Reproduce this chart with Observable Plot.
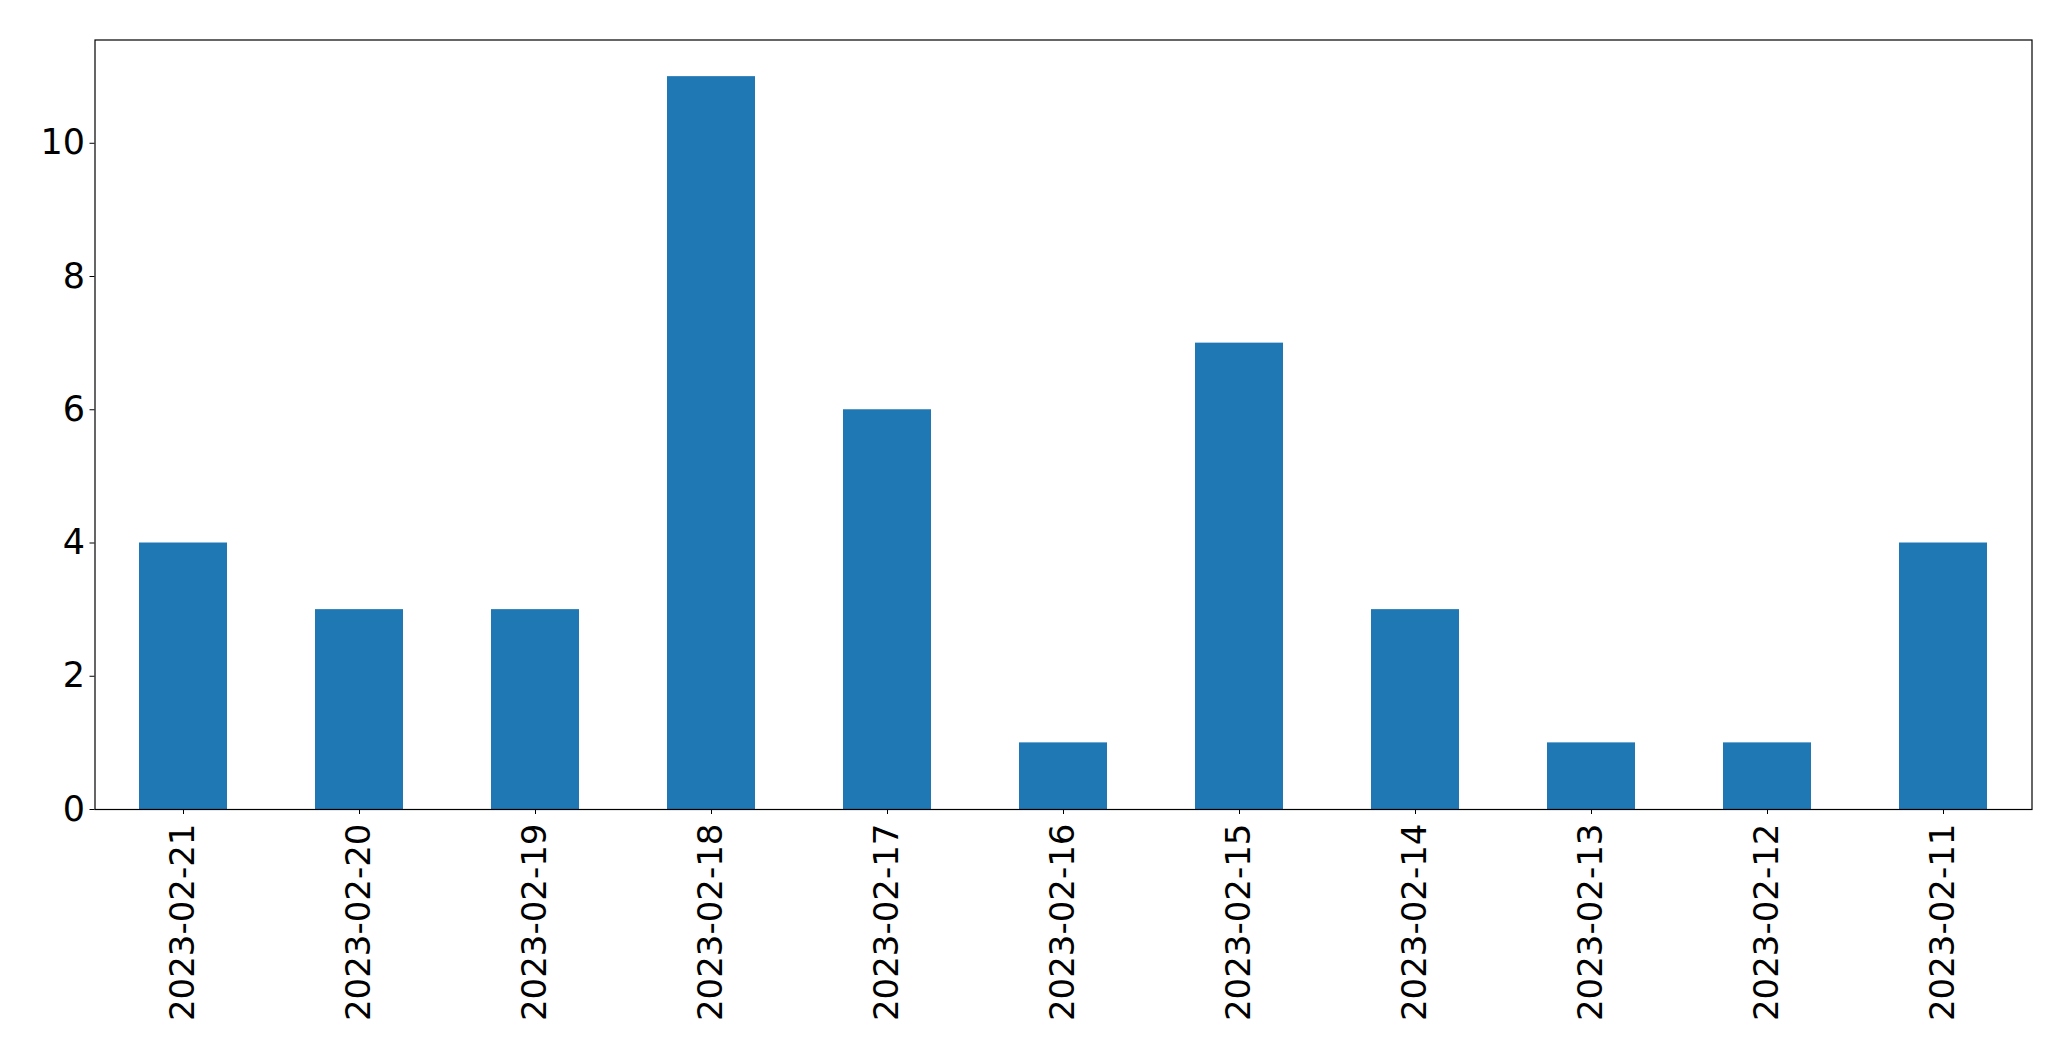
<!DOCTYPE html>
<html>
<head>
<meta charset="utf-8">
<script src="https://cdn.jsdelivr.net/npm/d3@7"></script>
<script src="https://cdn.jsdelivr.net/npm/@observablehq/plot@0.6"></script>
<style>
  html, body { margin: 0; padding: 0; background: #fff; }
  #chart svg { display: block; }
</style>
</head>
<body>
<div id="chart"></div>
<script>
const dates = ["2023-02-21","2023-02-20","2023-02-19","2023-02-18","2023-02-17","2023-02-16","2023-02-15","2023-02-14","2023-02-13","2023-02-12","2023-02-11"];
const counts = [4, 3, 3, 11, 6, 1, 7, 3, 1, 1, 4];
const yTicks = [0, 2, 4, 6, 8, 10];

const data = dates.map((d, i) => ({date: d, count: counts[i]}));

const chart = Plot.plot({
  width: 2071,
  height: 1061,
  marginLeft: 94.5,
  marginRight: 39.5,
  marginTop: 39.5,
  marginBottom: 252,
  style: {fontFamily: "DejaVu Sans", fontSize: "34px", color: "black", background: "white"},
  x: {domain: dates, paddingInner: 0.5, paddingOuter: 0.25, label: null},
  y: {domain: [0, 11.55], nice: false, label: null},
  marks: [
    Plot.barY(data, {x: "date", y: "count", fill: "#1f77b4"}),
    Plot.axisY({ticks: yTicks, tickSize: 5, tickPadding: 5, fontSize: 35, label: null, stroke: "black", fill: "black"}),
    Plot.axisX({tickRotate: -90, tickSize: 5, tickPadding: 9, label: null, stroke: "black", fill: "black"}),
    Plot.frame({stroke: "black", strokeWidth: 1.2})
  ]
});
document.getElementById("chart").appendChild(chart);
</script>
</body>
</html>
